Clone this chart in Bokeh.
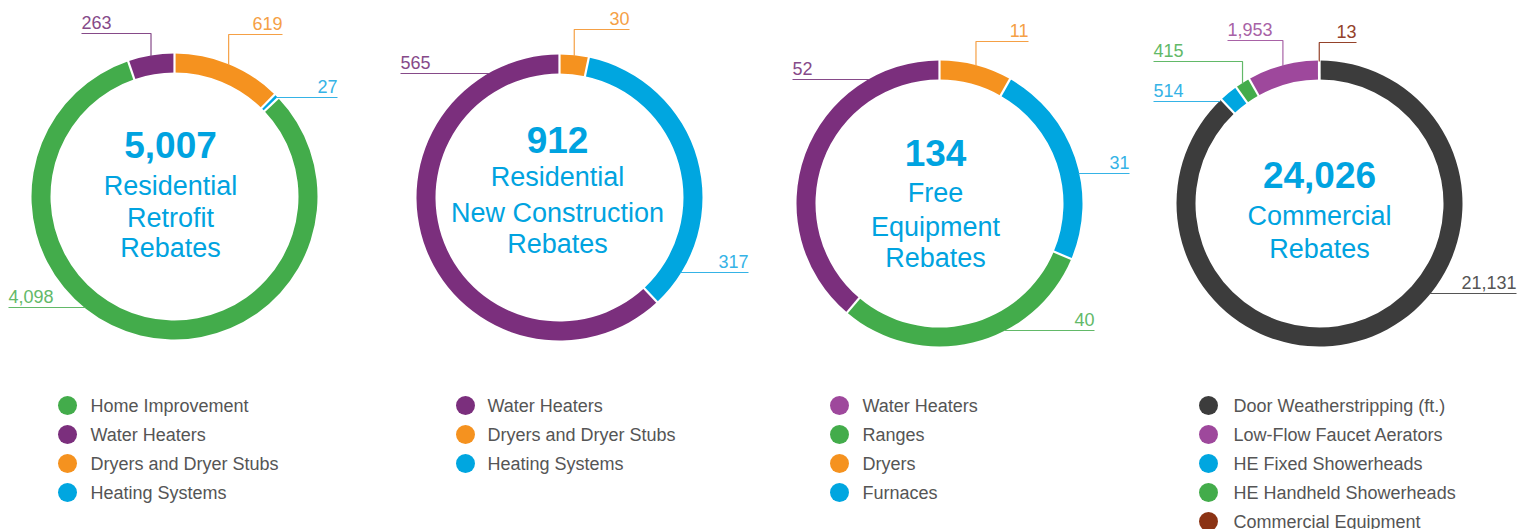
import math
from bokeh.plotting import figure
from bokeh.models import Range1d
from bokeh.core.properties import value
from bokeh.embed import file_html
from bokeh.resources import INLINE

# ---------------- data (ring order: clockwise from 12 o'clock) ----------------
rr_cats = ["Dryers and Dryer Stubs", "Heating Systems", "Home Improvement", "Water Heaters"]
rr_vals = [619, 27, 4098, 263]
rr_title = ["Residential", "Retrofit", "Rebates"]
rr_legend = ["Home Improvement", "Water Heaters", "Dryers and Dryer Stubs", "Heating Systems"]

nc_cats = ["Dryers and Dryer Stubs", "Heating Systems", "Water Heaters"]
nc_vals = [30, 317, 565]
nc_title = ["Residential", "New Construction", "Rebates"]
nc_legend = ["Water Heaters", "Dryers and Dryer Stubs", "Heating Systems"]

fe_cats = ["Dryers", "Furnaces", "Ranges", "Water Heaters"]
fe_vals = [11, 31, 40, 52]
fe_title = ["Free", "Equipment", "Rebates"]
fe_legend = ["Water Heaters", "Ranges", "Dryers", "Furnaces"]

cm_cats = ["Door Weatherstripping (ft.)", "HE Fixed Showerheads", "HE Handheld Showerheads",
           "Low-Flow Faucet Aerators", "Commercial Equipment"]
cm_vals = [21131, 514, 415, 1953, 13]
cm_title = ["Commercial", "Rebates"]
cm_legend = ["Door Weatherstripping (ft.)", "Low-Flow Faucet Aerators", "HE Fixed Showerheads",
             "HE Handheld Showerheads", "Commercial Equipment"]

# ---------------- styles ----------------
GREEN, PURPLE, ORANGE, BLUE = "#43ac4b", "#7b2f7d", "#f5921f", "#00a6e0"
DARK, LPURPLE, BROWN = "#3c3c3c", "#9e489c", "#8b3314"
LABEL_COL = {GREEN: "#62b968", PURPLE: "#864a89", ORANGE: "#f5a045", BLUE: "#35b3e6",
             DARK: "#555555", LPURPLE: "#a862a6", BROWN: "#94422a"}
TITLE_COL = "#00a3e0"
LEG_TEXT = "#555555"
FONT = "Liberation Sans"

rr_colors = [ORANGE, BLUE, GREEN, PURPLE]
rr_leg_colors = [GREEN, PURPLE, ORANGE, BLUE]
nc_colors = [ORANGE, BLUE, PURPLE]
nc_leg_colors = [PURPLE, ORANGE, BLUE]
fe_colors = [ORANGE, BLUE, GREEN, PURPLE]
fe_leg_colors = [LPURPLE, GREEN, ORANGE, BLUE]
cm_colors = [DARK, BLUE, GREEN, LPURPLE, BROWN]
cm_leg_colors = [DARK, LPURPLE, BLUE, GREEN, BROWN]

R_OUT, R_IN = 143, 124

# layout: centre, title centre-lines (cap middles), label leader specs (kind, line y, end x)
charts = [
    dict(cats=rr_cats, vals=rr_vals, colors=rr_colors, title=rr_title, legend=rr_legend,
         leg_colors=rr_leg_colors, cx=174, cy=196, tx=170, num_mid=144, title_mids=[185.5, 217.5, 247.5],
         labels=[("v", 34, 282), ("h", 97, 337), ("h", 307, 8), ("v", 33, 81)],
         leg_x=67, leg_tx=90),
    dict(cats=nc_cats, vals=nc_vals, colors=nc_colors, title=nc_title, legend=nc_legend,
         leg_colors=nc_leg_colors, cx=559, cy=197, tx=557, num_mid=139.5, title_mids=[176, 212, 243],
         labels=[("v", 29, 629), ("h", 272, 748), ("h", 73, 400)],
         leg_x=465, leg_tx=487),
    dict(cats=fe_cats, vals=fe_vals, colors=fe_colors, title=fe_title, legend=fe_legend,
         leg_colors=fe_leg_colors, cx=939, cy=203, tx=935, num_mid=152.5, title_mids=[192.5, 226, 257.5],
         labels=[("v", 41, 1028), ("h", 173, 1129), ("h", 330, 1094), ("h", 79, 792)],
         leg_x=839, leg_tx=862),
    dict(cats=cm_cats, vals=cm_vals, colors=cm_colors, title=cm_title, legend=cm_legend,
         leg_colors=cm_leg_colors, cx=1319, cy=203, tx=1319, num_mid=174.5, title_mids=[215, 248],
         labels=[("h", 293, 1516), ("h", 101, 1153), ("v", 61, 1153), ("v", 40, 1227), ("v", 42, 1356)],
         leg_x=1208, leg_tx=1233),
]
LEG_ROWS = [405, 434, 463, 492, 521]

W, H = 1528, 529


def Y(py):
    return H - py


p = figure(width=W, height=H, x_range=Range1d(0, W), y_range=Range1d(0, H),
           output_backend="svg", toolbar_location=None, min_border=0,
           x_axis_type=None, y_axis_type=None)
p.grid.visible = False
p.outline_line_color = None
p.background_fill_color = "white"
p.border_fill_color = "white"

for ch in charts:
    vals = ch["vals"]
    total = sum(vals)
    cx, cy = ch["cx"], ch["cy"]
    # cumulative clockwise angles (deg from top)
    bounds = [0.0]
    for v in vals:
        bounds.append(bounds[-1] + 360.0 * v / total)
    starts = [math.radians(90 - b) for b in bounds[1:]]
    ends = [math.radians(90 - b) for b in bounds[:-1]]
    p.annular_wedge(x=[cx] * len(vals), y=[Y(cy)] * len(vals), inner_radius=R_IN, outer_radius=R_OUT,
                    start_angle=starts, end_angle=ends, fill_color=ch["colors"], line_color=None)
    # white separators
    sx0, sy0, sx1, sy1 = [], [], [], []
    for b in bounds[:-1]:
        t = math.radians(b)
        sx0.append(cx + (R_IN - 2) * math.sin(t)); sy0.append(Y(cy) + (R_IN - 2) * math.cos(t))
        sx1.append(cx + (R_OUT + 2) * math.sin(t)); sy1.append(Y(cy) + (R_OUT + 2) * math.cos(t))
    p.segment(x0=sx0, y0=sy0, x1=sx1, y1=sy1, line_color="white", line_width=2.2)

    # value labels with leader lines
    for i, (kind, ly, ex) in enumerate(ch["labels"]):
        col = LABEL_COL[ch["colors"][i]]
        tm = math.radians((bounds[i] + bounds[i + 1]) / 2)
        if kind == "v":
            ax = cx + R_OUT * math.sin(tm)
            ay = cy - (R_OUT - 1) * math.cos(tm)
            xs = [ax, ax, ex]
            ys = [Y(ay), Y(ly), Y(ly)]
        else:
            dy = cy - ly
            dx = math.sqrt(max(R_OUT ** 2 - dy ** 2, 0)) - 1
            ax = cx - dx if ex < cx else cx + dx
            xs = [ax, ex]
            ys = [Y(ly), Y(ly)]
        p.line(x=xs, y=ys, line_color=col, line_width=1.2)
        align = "left" if ex < ax else "right"
        p.text(x=[ex], y=[Y(ly - 11.5)], text=["{:,}".format(vals[i])], text_align=align,
               text_baseline="middle", text_font=value(FONT), text_font_size=value("18px"),
               text_color=col)

    # center titles
    p.text(x=[ch["tx"]], y=[Y(ch["num_mid"])], text=["{:,}".format(total)], text_align="center",
           text_baseline="middle", text_font=value(FONT), text_font_size=value("37px"),
           text_font_style="bold", text_color=TITLE_COL)
    p.text(x=[ch["tx"]] * len(ch["title"]), y=[Y(b) for b in ch["title_mids"]], text=ch["title"],
           text_align="center", text_baseline="middle", text_font=value(FONT),
           text_font_size=value("27px"), text_color=TITLE_COL)

    # legend
    n = len(ch["legend"])
    rows = LEG_ROWS[:n]
    p.scatter(x=[ch["leg_x"]] * n, y=[Y(r) for r in rows], size=19, marker="circle",
              fill_color=ch["leg_colors"], line_color=None)
    p.text(x=[ch["leg_tx"]] * n, y=[Y(r) for r in rows], text=ch["legend"], text_align="left",
           text_baseline="middle", text_font=value(FONT), text_font_size=value("18px"),
           text_color=LEG_TEXT)

open("out.html", "w").write(file_html(p, INLINE))
